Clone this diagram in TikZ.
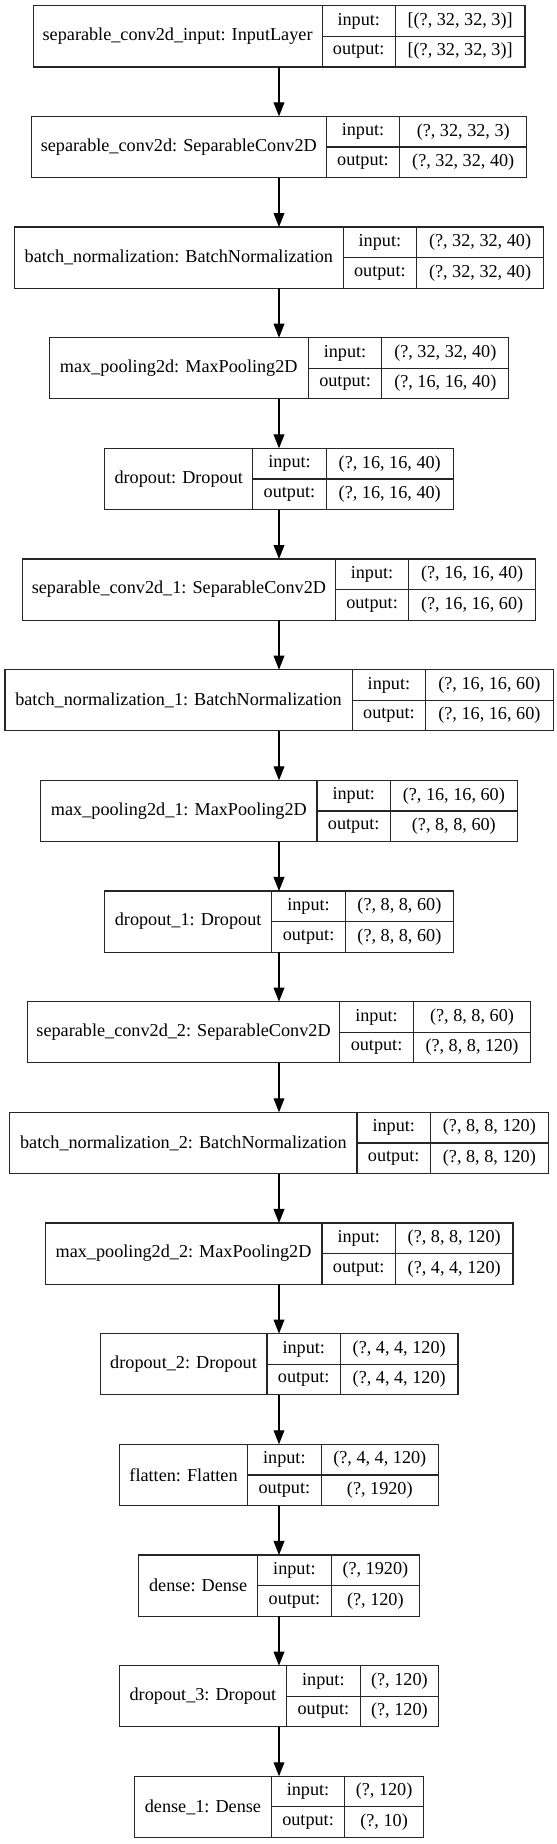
\documentclass[tikz,border=0pt]{standalone}
\usepackage{fontspec}
\setmainfont{Liberation Serif}
\usetikzlibrary{arrows.meta}
\tikzset{
  cellbox/.style={draw=black!85, line width=0.6pt, inner sep=0pt, outer sep=0pt,
    anchor=north west, font=\fontsize{9.1pt}{11pt}\selectfont},
  arr/.style={draw=black, line width=0.6pt, -{Triangle[length=7pt,width=5.4pt]}}
}
\newcommand{\kerasLayer}[8]{%
  \pgfmathsetmacro\xl{279-(#3+#4+#5)/2}%
  \pgfmathsetmacro\yt{5.7+110.66*#2}%
  \pgfmathsetmacro\yb{\yt+61.2}%
  \node[cellbox, minimum width=#3*0.5pt, minimum height=30.6pt] (#1) at (\xl,\yt) {#6};
  \node[cellbox, minimum width=#4*0.5pt, minimum height=15.3pt] (#1-ik) at (#1.north east) {input:};
  \node[cellbox, minimum width=#4*0.5pt, minimum height=15.3pt] (#1-ok) at (#1-ik.south west) {output:};
  \node[cellbox, minimum width=#5*0.5pt, minimum height=15.3pt] (#1-iv) at (#1-ik.north east) {#7};
  \node[cellbox, minimum width=#5*0.5pt, minimum height=15.3pt] (#1-ov) at (#1-iv.south west) {#8};
  \coordinate (#1-top) at (279,\yt);
  \coordinate (#1-bot) at (279,\yb);
}
\begin{document}
\begin{tikzpicture}[x=0.5pt,y=-0.5pt]
\useasboundingbox (0,0) rectangle (557,1844);
\kerasLayer{l1}{0}{289.0}{73.3}{129.5}{separable\_conv2d\_input: InputLayer}{[(?, 32, 32, 3)]}{[(?, 32, 32, 3)]}
\kerasLayer{l2}{1}{295.0}{73.5}{127.0}{separable\_conv2d: SeparableConv2D}{(?, 32, 32, 3)}{(?, 32, 32, 40)}
\kerasLayer{l3}{2}{328.8}{73.3}{127.0}{batch\_normalization: BatchNormalization}{(?, 32, 32, 40)}{(?, 32, 32, 40)}
\kerasLayer{l4}{3}{259.1}{73.5}{127.0}{max\_pooling2d: MaxPooling2D}{(?, 32, 32, 40)}{(?, 16, 16, 40)}
\kerasLayer{l5}{4}{148.0}{73.5}{127.0}{dropout: Dropout}{(?, 16, 16, 40)}{(?, 16, 16, 40)}
\kerasLayer{l6}{5}{312.8}{73.5}{126.7}{separable\_conv2d\_1: SeparableConv2D}{(?, 16, 16, 40)}{(?, 16, 16, 60)}
\kerasLayer{l7}{6}{347.3}{73.5}{127.4}{batch\_normalization\_1: BatchNormalization}{(?, 16, 16, 60)}{(?, 16, 16, 60)}
\kerasLayer{l8}{7}{276.2}{73.5}{126.7}{max\_pooling2d\_1: MaxPooling2D}{(?, 16, 16, 60)}{(?, 8, 8, 60)}
\kerasLayer{l9}{8}{167.3}{73.5}{108.2}{dropout\_1: Dropout}{(?, 8, 8, 60)}{(?, 8, 8, 60)}
\kerasLayer{l10}{9}{312.5}{73.5}{117.4}{separable\_conv2d\_2: SeparableConv2D}{(?, 8, 8, 60)}{(?, 8, 8, 120)}
\kerasLayer{l11}{10}{347.3}{73.5}{117.8}{batch\_normalization\_2: BatchNormalization}{(?, 8, 8, 120)}{(?, 8, 8, 120)}
\kerasLayer{l12}{11}{276.9}{73.5}{117.4}{max\_pooling2d\_2: MaxPooling2D}{(?, 8, 8, 120)}{(?, 4, 4, 120)}
\kerasLayer{l13}{12}{166.9}{73.5}{117.4}{dropout\_2: Dropout}{(?, 4, 4, 120)}{(?, 4, 4, 120)}
\kerasLayer{l14}{13}{128.1}{73.5}{117.4}{flatten: Flatten}{(?, 4, 4, 120)}{(?, 1920)}
\kerasLayer{l15}{14}{119.2}{73.5}{88.3}{dense: Dense}{(?, 1920)}{(?, 120)}
\kerasLayer{l16}{15}{167.3}{73.5}{78.6}{dropout\_3: Dropout}{(?, 120)}{(?, 120)}
\kerasLayer{l17}{16}{136.7}{73.5}{78.6}{dense\_1: Dense}{(?, 120)}{(?, 10)}
\foreach \a/\b in {l1/l2,l2/l3,l3/l4,l4/l5,l5/l6,l6/l7,l7/l8,l8/l9,l9/l10,l10/l11,l11/l12,l12/l13,l13/l14,l14/l15,l15/l16,l16/l17}
  \draw[arr] (\a-bot) -- (\b-top);
\end{tikzpicture}
\end{document}
